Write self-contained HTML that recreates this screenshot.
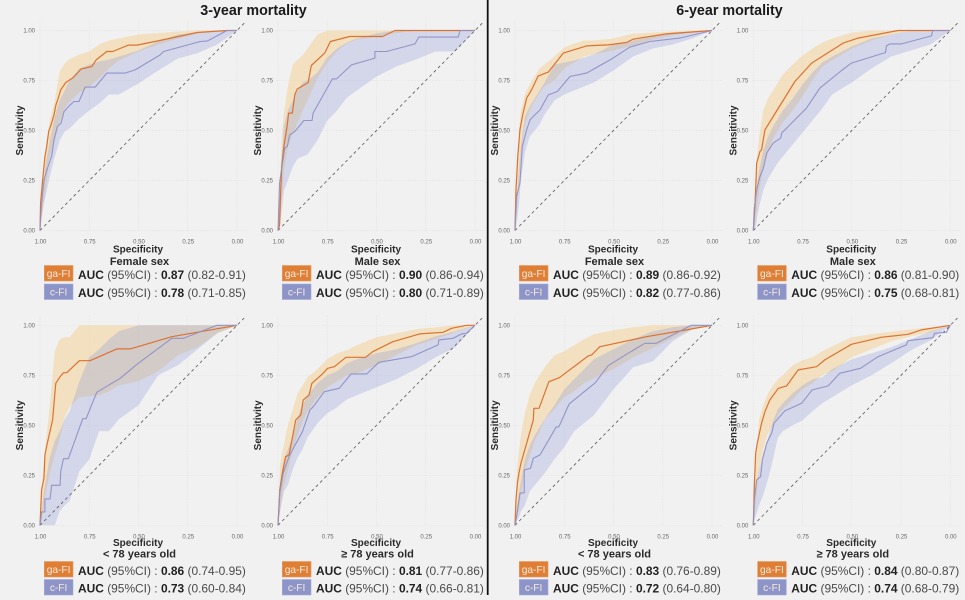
<!DOCTYPE html>
<html lang="en">
<head>
<meta charset="utf-8">
<title>ROC curves: 3-year and 6-year mortality</title>
<style>
html,body{margin:0;padding:0;background:#f1f1f1;}
body{width:965px;height:600px;overflow:hidden;}
svg{display:block;font-family:"Liberation Sans",sans-serif;filter:blur(.35px);}
.title{font-size:14.3px;font-weight:bold;fill:#1a1a1a;text-anchor:middle;}
.axt{font-size:10px;font-weight:bold;fill:#2a2a2a;text-anchor:middle;}
.sub{font-size:11px;font-weight:bold;fill:#2a2a2a;text-anchor:middle;}
.auc{font-size:11.95px;fill:#4a4a4a;}
.auc .b{font-weight:bold;fill:#222;}
.lg{font-size:10.2px;fill:#f6e9de;text-anchor:middle;}
</style>
</head>
<body>
<svg id="chart" width="965" height="600" viewBox="0 0 965 600" xmlns="http://www.w3.org/2000/svg">
<rect x="0" y="0" width="965" height="600" fill="#f1f1f1"/>
<text class="title" x="253.500" y="15">3-year mortality</text>
<text class="title" x="729.500" y="15">6-year mortality</text>
<rect x="486.800" y="0" width="1.800" height="595" fill="#111"/>

<g id="p1" transform="translate(40 0)">
<text class="axt" x="98" y="252.500">Specificity</text>
<text class="sub" x="99.500" y="265">Female sex</text>
<rect x="4.300" y="265.500" width="28.700" height="15.500" fill="#df7f36" stroke="#e59a63" stroke-width=".6"/>
<text class="lg" x="18.600" y="277">ga-FI</text>
<text class="auc" x="38" y="279"><tspan class="b">AUC</tspan> (95%CI) : <tspan class="b">0.87</tspan> (0.82-0.91)</text>
<rect x="4.300" y="284" width="28.700" height="15.500" fill="#8d94c8" stroke="#a6abd4" stroke-width=".6"/>
<text class="lg" x="18.600" y="295.500">c-FI</text>
<text class="auc" x="38" y="297"><tspan class="b">AUC</tspan> (95%CI) : <tspan class="b">0.78</tspan> (0.71-0.85)</text>
</g>

<g id="p2" transform="translate(278 0)">
<text class="axt" x="98" y="252.500">Specificity</text>
<text class="sub" x="99.500" y="265">Male sex</text>
<rect x="4.300" y="265.500" width="28.700" height="15.500" fill="#df7f36" stroke="#e59a63" stroke-width=".6"/>
<text class="lg" x="18.600" y="277">ga-FI</text>
<text class="auc" x="38" y="279"><tspan class="b">AUC</tspan> (95%CI) : <tspan class="b">0.90</tspan> (0.86-0.94)</text>
<rect x="4.300" y="284" width="28.700" height="15.500" fill="#8d94c8" stroke="#a6abd4" stroke-width=".6"/>
<text class="lg" x="18.600" y="295.500">c-FI</text>
<text class="auc" x="38" y="297"><tspan class="b">AUC</tspan> (95%CI) : <tspan class="b">0.80</tspan> (0.71-0.89)</text>
</g>

<g id="p3" transform="translate(40 0)">
<text class="axt" x="98" y="546">Specificity</text>
<text class="sub" x="99.500" y="557.500">&lt; 78 years old</text>
<rect x="4.300" y="561.500" width="28.700" height="15.500" fill="#df7f36" stroke="#e59a63" stroke-width=".6"/>
<text class="lg" x="18.600" y="573">ga-FI</text>
<text class="auc" x="38" y="575"><tspan class="b">AUC</tspan> (95%CI) : <tspan class="b">0.86</tspan> (0.74-0.95)</text>
<rect x="4.300" y="579.500" width="28.700" height="15.500" fill="#8d94c8" stroke="#a6abd4" stroke-width=".6"/>
<text class="lg" x="18.600" y="591">c-FI</text>
<text class="auc" x="38" y="592.500"><tspan class="b">AUC</tspan> (95%CI) : <tspan class="b">0.73</tspan> (0.60-0.84)</text>
</g>

<g id="p4" transform="translate(278 0)">
<text class="axt" x="98" y="546">Specificity</text>
<text class="sub" x="99.500" y="557.500">≥ 78 years old</text>
<rect x="4.300" y="561.500" width="28.700" height="15.500" fill="#df7f36" stroke="#e59a63" stroke-width=".6"/>
<text class="lg" x="18.600" y="573">ga-FI</text>
<text class="auc" x="38" y="575"><tspan class="b">AUC</tspan> (95%CI) : <tspan class="b">0.81</tspan> (0.77-0.86)</text>
<rect x="4.300" y="579.500" width="28.700" height="15.500" fill="#8d94c8" stroke="#a6abd4" stroke-width=".6"/>
<text class="lg" x="18.600" y="591">c-FI</text>
<text class="auc" x="38" y="592.500"><tspan class="b">AUC</tspan> (95%CI) : <tspan class="b">0.74</tspan> (0.66-0.81)</text>
</g>

<g id="p5" transform="translate(515 0)">
<text class="axt" x="98" y="252.500">Specificity</text>
<text class="sub" x="99.500" y="265">Female sex</text>
<rect x="4.300" y="265.500" width="28.700" height="15.500" fill="#df7f36" stroke="#e59a63" stroke-width=".6"/>
<text class="lg" x="18.600" y="277">ga-FI</text>
<text class="auc" x="38" y="279"><tspan class="b">AUC</tspan> (95%CI) : <tspan class="b">0.89</tspan> (0.86-0.92)</text>
<rect x="4.300" y="284" width="28.700" height="15.500" fill="#8d94c8" stroke="#a6abd4" stroke-width=".6"/>
<text class="lg" x="18.600" y="295.500">c-FI</text>
<text class="auc" x="38" y="297"><tspan class="b">AUC</tspan> (95%CI) : <tspan class="b">0.82</tspan> (0.77-0.86)</text>
</g>

<g id="p6" transform="translate(753.300 0)">
<text class="axt" x="98" y="252.500">Specificity</text>
<text class="sub" x="99.500" y="265">Male sex</text>
<rect x="4.300" y="265.500" width="28.700" height="15.500" fill="#df7f36" stroke="#e59a63" stroke-width=".6"/>
<text class="lg" x="18.600" y="277">ga-FI</text>
<text class="auc" x="38" y="279"><tspan class="b">AUC</tspan> (95%CI) : <tspan class="b">0.86</tspan> (0.81-0.90)</text>
<rect x="4.300" y="284" width="28.700" height="15.500" fill="#8d94c8" stroke="#a6abd4" stroke-width=".6"/>
<text class="lg" x="18.600" y="295.500">c-FI</text>
<text class="auc" x="38" y="297"><tspan class="b">AUC</tspan> (95%CI) : <tspan class="b">0.75</tspan> (0.68-0.81)</text>
</g>

<g id="p7" transform="translate(515 0)">
<text class="axt" x="98" y="546">Specificity</text>
<text class="sub" x="99.500" y="557.500">&lt; 78 years old</text>
<rect x="4.300" y="561.500" width="28.700" height="15.500" fill="#df7f36" stroke="#e59a63" stroke-width=".6"/>
<text class="lg" x="18.600" y="573">ga-FI</text>
<text class="auc" x="38" y="575"><tspan class="b">AUC</tspan> (95%CI) : <tspan class="b">0.83</tspan> (0.76-0.89)</text>
<rect x="4.300" y="579.500" width="28.700" height="15.500" fill="#8d94c8" stroke="#a6abd4" stroke-width=".6"/>
<text class="lg" x="18.600" y="591">c-FI</text>
<text class="auc" x="38" y="592.500"><tspan class="b">AUC</tspan> (95%CI) : <tspan class="b">0.72</tspan> (0.64-0.80)</text>
</g>

<g id="p8" transform="translate(753.300 0)">
<text class="axt" x="98" y="546">Specificity</text>
<text class="sub" x="99.500" y="557.500">≥ 78 years old</text>
<rect x="4.300" y="561.500" width="28.700" height="15.500" fill="#df7f36" stroke="#e59a63" stroke-width=".6"/>
<text class="lg" x="18.600" y="573">ga-FI</text>
<text class="auc" x="38" y="575"><tspan class="b">AUC</tspan> (95%CI) : <tspan class="b">0.84</tspan> (0.80-0.87)</text>
<rect x="4.300" y="579.500" width="28.700" height="15.500" fill="#8d94c8" stroke="#a6abd4" stroke-width=".6"/>
<text class="lg" x="18.600" y="591">c-FI</text>
<text class="auc" x="38" y="592.500"><tspan class="b">AUC</tspan> (95%CI) : <tspan class="b">0.74</tspan> (0.68-0.79)</text>
</g>
</svg>

<script>
const tickValues = [1, 0.75, 0.5, 0.25, 0];
const tickLabelsX = ["1.00", "0.75", "0.50", "0.25", "0.00"];
const tickLabelsY = ["1.00", "0.75", "0.50", "0.25", "0.00"];

// specificity grid shared by all confidence bands
const bandSpec = [1,.99,.98,.97,.95,.925,.90,.875,.85,.80,.75,.70,.65,.60,.50,.40,.30,.20,.10,0];

// panel 1: 3-year, female
const p1GaSpec = [1,.997,.988,.975,.966,.956,.941,.929,.919,.907,.895,.869,.831,.792,.737,.715,.661,.631,.551,.508,.407,.203,.051,0];
const p1GaSens = [0,.137,.237,.37,.42,.495,.537,.578,.628,.662,.703,.74,.765,.807,.82,.853,.895,.895,.927,.927,.947,.99,1,1];
const p1CSpec = [1,.993,.98,.966,.941,.929,.912,.893,.878,.847,.827,.802,.771,.72,.661,.568,.517,.39,.373,.186,.149,.051,0];
const p1CSens = [0,.12,.253,.3,.37,.453,.52,.537,.595,.628,.645,.645,.717,.717,.787,.787,.803,.878,.895,.945,.948,1,1];
const p1GaHi = [0,.24,.35,.42,.55,.65,.795,.835,.857,.88,.895,.93,.95,.96,.98,.987,.995,1,1,1];
const p1GaLo = [0,.09,.15,.22,.37,.45,.54,.61,.645,.69,.72,.76,.81,.85,.895,.93,.96,.985,.998,1];
const p1CHi = [0,.15,.25,.34,.45,.57,.65,.70,.75,.81,.83,.845,.855,.87,.90,.945,.98,.99,1,1];
const p1CLo = [0,.07,.135,.18,.27,.37,.45,.495,.51,.56,.60,.635,.68,.68,.735,.80,.86,.887,.93,1];

// panel 2: 3-year, male
const p2GaSpec = [1,.992,.988,.981,.971,.954,.946,.927,.915,.903,.847,.831,.763,.734,.636,.469,.407,0];
const p2GaSens = [0,.028,.153,.32,.412,.52,.587,.587,.678,.707,.74,.825,.887,.945,.97,.97,1,1];
const p2CSpec = [1,.997,.992,.98,.966,.953,.941,.915,.893,.869,.827,.822,.724,.703,.627,.508,.508,.449,.305,.285,.085,.076,0];
const p2CSens = [0,.087,.237,.32,.412,.42,.478,.495,.52,.55,.55,.587,.758,.758,.828,.862,.895,.895,.933,.967,.967,1,1];
const p2GaHi = [0,.25,.48,.59,.72,.83,.855,.875,.91,.98,1,1,1,1,1,1,1,1,1,1];
const p2GaLo = [0,.03,.17,.3,.42,.48,.54,.60,.65,.76,.84,.895,.935,.955,.97,.987,1,1,1,1];
const p2CHi = [0,.2,.38,.52,.6,.65,.7,.74,.75,.79,.865,.91,.94,.96,.985,1,1,1,1,1];
const p2CLo = [0,.03,.1,.2,.25,.32,.36,.37,.38,.45,.55,.60,.665,.70,.77,.82,.855,.895,.895,1];

// panel 3: 3-year, under 78
const p3GaSpec = [1,.992,.98,.975,.963,.936,.92,.898,.881,.864,.8,.746,.61,.542,.331,0];
const p3GaSens = [0,.177,.235,.352,.41,.527,.71,.743,.763,.763,.823,.823,.882,.882,.943,1];
const p3CSpec = [1,.992,.975,.975,.949,.941,.898,.895,.881,.856,.783,.766,.712,.593,.508,.331,.271,.102,0];
const p3CSens = [0,.067,.067,.132,.132,.2,.2,.268,.333,.333,.533,.533,.665,.735,.805,.935,.935,1,1];
const p3GaHi = [0,.2,.33,.42,.6,.87,.93,.94,.94,1,1,1,1,1,1,1,1,1,1,1];
const p3GaLo = [0,.03,.1,.17,.26,.35,.43,.54,.59,.64,.645,.65,.67,.70,.72,.77,.85,.89,.96,1];
const p3CHi = [0,.08,.17,.23,.34,.42,.47,.53,.57,.72,.84,.88,.93,.97,1,1,1,1,1,1];
const p3CLo = [0,0,0,0,0,0,.07,.1,.12,.27,.33,.47,.47,.53,.6,.75,.8,.88,.96,1];

// panel 4: 3-year, 78 and over
const p4GaSpec = [1,.991,.978,.961,.944,.91,.884,.872,.842,.828,.774,.748,.714,.655,.556,.519,.417,.281,.162,.119,.043,0];
const p4GaSens = [0,.177,.26,.343,.352,.527,.552,.627,.652,.71,.757,.785,.793,.84,.84,.868,.918,.957,.965,.985,1,1];
const p4CSpec = [1,.991,.974,.944,.918,.876,.838,.821,.765,.689,.629,.549,.488,.417,.323,.187,.184,.111,.068,.043,0];
const p4CSens = [0,.16,.26,.343,.393,.468,.577,.593,.668,.685,.757,.757,.815,.827,.843,.902,.927,.935,.957,.96,1];
const p4GaHi = [0,.3,.36,.40,.5,.58,.66,.7,.74,.78,.83,.86,.875,.90,.94,.96,.98,.99,1,1];
const p4GaLo = [0,.06,.13,.2,.27,.38,.45,.52,.57,.64,.69,.72,.75,.76,.80,.85,.90,.93,.965,1];
const p4CHi = [0,.2,.28,.33,.38,.44,.54,.6,.65,.71,.75,.77,.81,.83,.86,.88,.91,.945,.97,1];
const p4CLo = [0,.07,.12,.17,.2,.28,.34,.38,.44,.51,.56,.59,.63,.65,.69,.73,.78,.84,.89,1];

// panel 5: 6-year, female
const p5GaSpec = [1,.995,.986,.975,.961,.941,.916,.882,.831,.755,.637,.527,.434,.4,.231,0];
const p5GaSens = [0,.203,.37,.503,.578,.662,.703,.773,.792,.887,.923,.928,.94,.957,.983,1];
const p5CSpec = [1,.992,.975,.963,.941,.924,.899,.873,.831,.785,.721,.637,.502,.417,.316,.164,0];
const p5CSens = [0,.17,.237,.42,.503,.553,.578,.603,.678,.695,.77,.787,.862,.917,.945,.962,1];
const p5GaHi = [0,.3,.5,.6,.68,.73,.77,.81,.83,.87,.915,.935,.95,.95,.96,.985,.99,.995,1,1];
const p5GaLo = [0,.1,.25,.38,.53,.6,.65,.69,.72,.75,.81,.84,.87,.88,.9,.925,.955,.975,.99,1];
const p5CHi = [0,.16,.3,.42,.57,.62,.66,.7,.74,.83,.84,.85,.865,.88,.93,.95,.975,.99,.995,1];
const p5CLo = [0,.05,.13,.25,.39,.47,.5,.53,.58,.65,.68,.7,.72,.74,.80,.87,.91,.93,.96,1];

// panel 6: 6-year, male
const p6GaSpec = [1,.992,.988,.983,.966,.958,.941,.899,.789,.704,.544,.468,.265,0];
const p6GaSens = [0,.12,.203,.337,.395,.403,.503,.57,.745,.837,.937,.962,1,1];
const p6CSpec = [1,.995,.983,.966,.949,.932,.899,.861,.856,.73,.662,.552,.502,.329,.324,.307,.248,.096,.088,0];
const p6CSens = [0,.112,.203,.27,.312,.387,.437,.462,.487,.612,.712,.8,.837,.89,.923,.933,.933,.973,1,1];
const p6GaHi = [0,.25,.38,.47,.6,.66,.7,.74,.78,.83,.875,.91,.94,.96,.99,1,1,1,1,1];
const p6GaLo = [0,.04,.13,.2,.31,.39,.46,.5,.54,.6,.67,.75,.82,.85,.91,.95,.98,1,1,1];
const p6CHi = [0,.13,.24,.3,.4,.47,.52,.56,.6,.66,.73,.79,.84,.87,.92,.96,.98,1,1,1];
const p6CLo = [0,0,.07,.12,.2,.26,.3,.34,.37,.43,.49,.55,.61,.68,.74,.81,.87,.9,.93,1];

// panel 7: 6-year, under 78
const p7GaSpec = [1,.995,.988,.98,.97,.941,.907,.904,.878,.828,.775,.628,.611,.569,.333,.13,0];
const p7GaSens = [0,.127,.21,.26,.31,.41,.527,.585,.585,.718,.738,.847,.852,.893,.943,.977,1];
const p7CSpec = [1,.988,.975,.953,.953,.921,.907,.873,.792,.777,.725,.611,.595,.527,.426,.341,.282,.105,0];
const p7CSens = [0,.068,.16,.163,.277,.285,.335,.352,.49,.493,.607,.698,.71,.798,.86,.91,.91,1,1];
const p7GaHi = [0,.28,.37,.45,.56,.65,.71,.75,.79,.85,.87,.9,.93,.955,.975,.99,1,1,1,1];
const p7GaLo = [0,.03,.08,.15,.27,.35,.42,.47,.53,.58,.64,.67,.71,.735,.78,.84,.885,.935,.98,1];
const p7CHi = [0,.09,.16,.22,.33,.4,.45,.49,.53,.6,.68,.73,.78,.83,.88,.93,.97,.99,1,1];
const p7CLo = [0,.02,.04,.07,.1,.17,.2,.23,.26,.33,.39,.47,.51,.55,.68,.79,.82,.92,.98,1];

// panel 8: 6-year, 78 and over
const p8GaSpec = [1,.995,.988,.98,.958,.941,.916,.873,.831,.772,.679,.637,.502,.35,.215,.147,0];
const p8GaSens = [0,.193,.36,.41,.51,.568,.627,.685,.697,.777,.793,.827,.905,.94,.955,.977,1];
const p8CSpec = [1,.995,.983,.963,.954,.932,.907,.895,.84,.755,.701,.62,.561,.456,.367,.223,.215,.088,.08,.02,0];
const p8CSens = [0,.127,.227,.243,.327,.41,.46,.51,.572,.61,.677,.697,.76,.785,.843,.902,.923,.938,.96,.965,1];
const p8GaHi = [0,.3,.42,.53,.6,.66,.7,.73,.75,.8,.825,.84,.87,.895,.94,.955,.968,.98,.99,1];
const p8GaLo = [0,.08,.18,.28,.38,.46,.5,.55,.58,.63,.68,.71,.75,.77,.84,.88,.92,.945,.965,1];
const p8CHi = [0,.18,.23,.28,.36,.44,.52,.58,.61,.66,.70,.73,.74,.78,.83,.86,.89,.93,.97,1];
const p8CLo = [0,.04,.07,.1,.15,.23,.33,.44,.47,.5,.525,.57,.61,.64,.7,.75,.81,.875,.925,1];

const panelSeries = [
  [p1GaSpec,p1GaSens,p1CSpec,p1CSens,p1GaHi,p1GaLo,p1CHi,p1CLo],
  [p2GaSpec,p2GaSens,p2CSpec,p2CSens,p2GaHi,p2GaLo,p2CHi,p2CLo],
  [p3GaSpec,p3GaSens,p3CSpec,p3CSens,p3GaHi,p3GaLo,p3CHi,p3CLo],
  [p4GaSpec,p4GaSens,p4CSpec,p4CSens,p4GaHi,p4GaLo,p4CHi,p4CLo],
  [p5GaSpec,p5GaSens,p5CSpec,p5CSens,p5GaHi,p5GaLo,p5CHi,p5CLo],
  [p6GaSpec,p6GaSens,p6CSpec,p6CSens,p6GaHi,p6GaLo,p6CHi,p6CLo],
  [p7GaSpec,p7GaSens,p7CSpec,p7CSens,p7GaHi,p7GaLo,p7CHi,p7CLo],
  [p8GaSpec,p8GaSens,p8CSpec,p8CSens,p8GaHi,p8GaLo,p8CHi,p8CLo]
];

const NS = "http://www.w3.org/2000/svg";
const plotW = 197, plotH = 200;
// top of plot area (sens = 1) by row: panels 1,2,5,6 use the first row, 3,4,7,8 the second
const rowOfPanel = [0,0,1,1,0,0,1,1];
const rowTop = [30.5, 325.3];
const xAt = v => (1 - v) * plotW;
const yFor = top => v => top + (1 - v) * plotH;

function linePoints(spec, sens, yAt) {
  return spec.map((s, i) => xAt(s).toFixed(2) + "," + yAt(sens[i]).toFixed(2)).join(" ");
}
function bandPoints(hi, lo, yAt) {
  const top = bandSpec.map((s, i) => xAt(s).toFixed(2) + "," + yAt(hi[i]).toFixed(2));
  const bot = bandSpec.map((s, i) => xAt(s).toFixed(2) + "," + yAt(lo[i]).toFixed(2)).reverse();
  return top.concat(bot).join(" ");
}

panelSeries.forEach((d, idx) => {
  const g = document.getElementById("p" + (idx + 1));
  const top = rowTop[rowOfPanel[idx]];
  const yAt = yFor(top);
  const marks = document.createElementNS(NS, "g");
  
  
  g.insertBefore(marks, g.firstChild);

  const add = (tag, attrs) => {
    const el = document.createElementNS(NS, tag);
    for (const k in attrs) el.setAttribute(k, attrs[k]);
    marks.appendChild(el);
    return el;
  };

  tickValues.forEach((t, i) => {
    const gx = add("line", {x1: xAt(t), x2: xAt(t), y1: top - 10, y2: top + plotH + 1, stroke: "#e6e6e6", "stroke-width": .7, "stroke-dasharray": "2 1"});
    
    
    const gy = add("line", {x1: -2, x2: plotW + 10, y1: yAt(t), y2: yAt(t), stroke: "#e6e6e6", "stroke-width": .7, "stroke-dasharray": "2 1"});
    
    
    const lx = add("text", {x: xAt(t) + .5, y: top + plotH + 13, "font-size": 6, fill: "#666", "text-anchor": "middle"});
    lx.textContent = tickLabelsX[i];
    
    
    const ly = add("text", {x: -5, y: yAt(t) + 2.2, "font-size": 6, fill: "#666", "text-anchor": "end"});
    ly.textContent = tickLabelsY[i];
    
    
  });

  const yTitle = add("text", {class: "axt", x: 0, y: 0, transform: "translate(-17 " + (top + 100) + ") rotate(-90)"});
  yTitle.textContent = "Sensitivity";
  
  

  const gaBand = add("polygon", {points: bandPoints(d[4], d[5], yAt), fill: "#f5cd85", "fill-opacity": .45});
  
  
  const cBand = add("polygon", {points: bandPoints(d[6], d[7], yAt), fill: "#98a3d8", "fill-opacity": .34});
  
  

  const diag = add("line", {x1: xAt(1), y1: yAt(0), x2: xAt(-0.047), y2: yAt(1.047), stroke: "#555", "stroke-width": .8, "stroke-dasharray": "3 3"});
  
  

  const gaLine = add("polyline", {points: linePoints(d[0], d[1], yAt), fill: "none", stroke: "#dc7230", "stroke-width": 1.2, "stroke-linejoin": "round"});
  
  
  const cLine = add("polyline", {points: linePoints(d[2], d[3], yAt), fill: "none", stroke: "#8f90c6", "stroke-width": 1.1, "stroke-linejoin": "round", "stroke-opacity": .95});
  
  
});
</script>
</body>
</html>
